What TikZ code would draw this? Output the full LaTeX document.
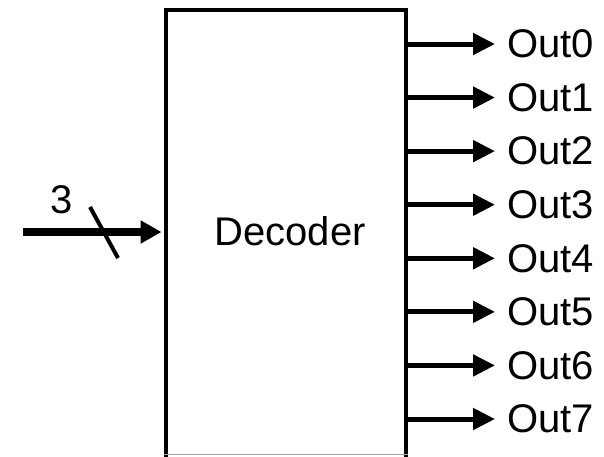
\documentclass[tikz,border=0pt]{standalone}
\usepackage{fontspec}
\setmainfont{Liberation Sans}
\usetikzlibrary{arrows.meta}
\tikzset{
  lbl/.style={inner sep=0pt, font=\fontsize{40}{48}\selectfont},
  outarrow/.style={line width=5pt, -{Triangle[length=22pt,width=21pt]}},
  inarrow/.style={line width=8pt, -{Triangle[length=21pt,width=22pt]}},
  boxline/.style={line width=4pt}
}
\begin{document}
\begin{tikzpicture}[x=1pt,y=-1pt]
\useasboundingbox (0,0) rectangle (604,456);
\clip (0,0) rectangle (604,456);
\fill[white] (0,0) rectangle (604,456);
% decoder box (bottom edge falls outside the picture)
\node[draw, boxline, minimum width=240pt, minimum height=450pt, inner sep=0pt] (dec) at (286,235) {};
\draw[gray!70, line width=1pt] (164,454.5) -- (408,454.5);
\node[lbl] (name) at (290,231.5) {Decoder};
% outputs
\foreach \i in {0,...,7} {
  \node[lbl, anchor=west] (o\i) at (507,{44+53.57*\i}) {Out\i};
  \draw[outarrow] (dec.east |- o\i.west) -- ([xshift=-12pt]o\i.west);
}
% input bus
\coordinate (in) at (23,232);
\draw[inarrow] (in) -- ([xshift=-2.5pt]dec.west |- in);
\coordinate (s1) at (90,207);
\coordinate (s2) at (118,258);
\draw[line width=4pt] (s1) -- (s2);
\node[lbl] (w) at (62,200) {3};
\end{tikzpicture}
\end{document}
